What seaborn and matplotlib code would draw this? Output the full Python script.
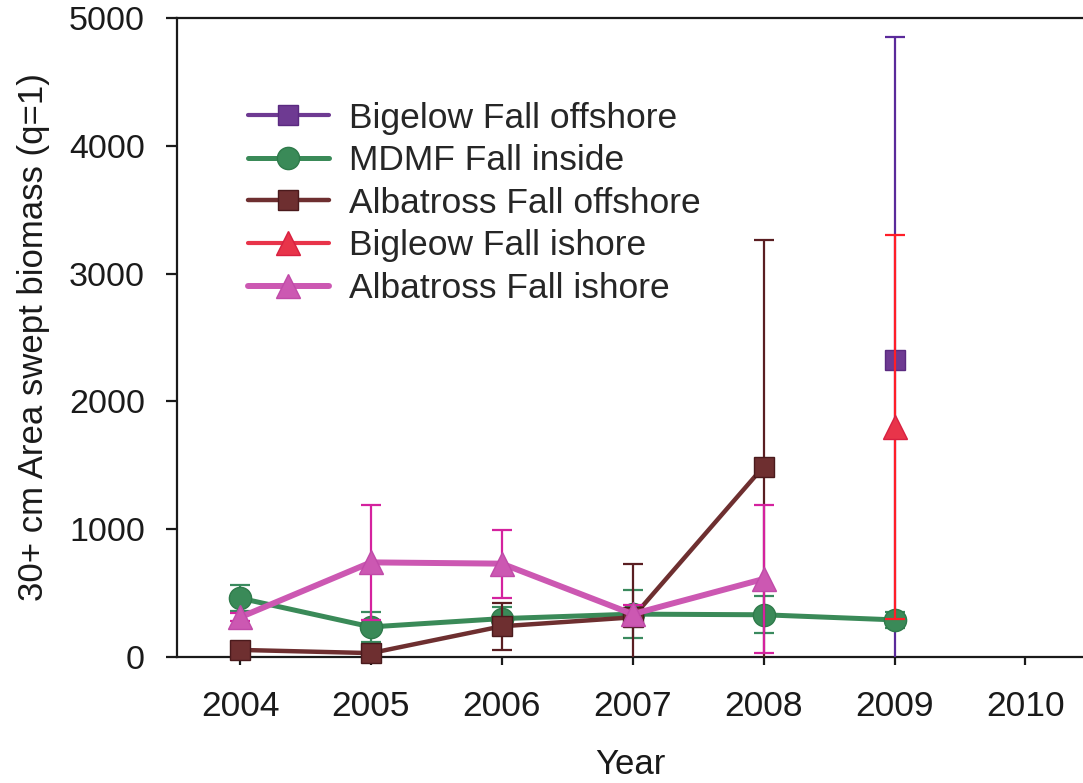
import matplotlib
matplotlib.use("Agg")
import matplotlib.pyplot as plt
import seaborn as sns
import numpy as np

# Survey years and swept-area biomass estimates (30+ cm) with error half-widths
year_ticks = [2004, 2005, 2006, 2007, 2008, 2009, 2010]

bigelow_off_years = [2009]
bigelow_off = [2320]
bigelow_off_err = [2530]

mdmf_years = [2004, 2005, 2006, 2007, 2008, 2009]
mdmf_inside = [460, 235, 300, 335, 330, 290]
mdmf_inside_err = [100, 115, 90, 190, 145, 60]

alb_off_years = [2004, 2005, 2006, 2007, 2008]
alb_off = [55, 30, 240, 310, 1490]
alb_off_err = [30, 20, 185, 415, 1775]

bigelow_in_years = [2009]
bigelow_in = [1800]
bigelow_in_err = [1500]

alb_in_years = [2004, 2005, 2006, 2007, 2008]
alb_in = [310, 740, 730, 335, 610]
alb_in_err = [30, 450, 265, 75, 580]

sns.set_theme(style="ticks")
plt.rcParams["font.family"] = ["Liberation Sans", "DejaVu Sans"]

fig = plt.figure(figsize=(10.83, 7.83), dpi=100)
ax = fig.add_axes([0.1634, 0.161, 0.8366, 0.816])

series = [
    dict(x=bigelow_off_years, y=bigelow_off, e=bigelow_off_err, label="Bigelow Fall offshore",
         color="#6E3A92", ecol="#5A2A9A", marker="s", ms=14, lw=3.0, mec="#5A2A80"),
    dict(x=mdmf_years, y=mdmf_inside, e=mdmf_inside_err, label="MDMF Fall inside",
         color="#3A8A58", ecol="#3A8A5E", marker="o", ms=16, lw=3.6, mec="#2E7A4A"),
    dict(x=alb_off_years, y=alb_off, e=alb_off_err, label="Albatross Fall offshore",
         color="#6E2F30", ecol="#5A1E22", marker="s", ms=14, lw=3.2, mec="#4A1A1C"),
    dict(x=bigelow_in_years, y=bigelow_in, e=bigelow_in_err, label="Bigleow Fall ishore",
         color="#E8344A", ecol="#FF1E28", marker="^", ms=17, lw=3.0, mec="#D82040"),
    dict(x=alb_in_years, y=alb_in, e=alb_in_err, label="Albatross Fall ishore",
         color="#CC58B2", ecol="#D4229E", marker="^", ms=17, lw=4.3, mec="#C04AA8"),
]

for i, s in enumerate(series):
    z = 3 + i
    ax.errorbar(s["x"], s["y"], yerr=s["e"], fmt="none", ecolor=s["ecol"],
                elinewidth=1.6, capsize=7, capthick=1.6, zorder=z)
    sns.lineplot(x=s["x"], y=s["y"], ax=ax, color=s["color"], marker=s["marker"],
                 markersize=s["ms"], markeredgecolor=s["mec"], markeredgewidth=1.0,
                 linewidth=s["lw"], label=s["label"], zorder=z + 0.5, clip_on=False)

ax.set_xlim(2003.518, 2010.44)
ax.set_ylim(0, 5000)
ax.set_xticks(year_ticks)
ax.set_xticklabels([str(y) for y in year_ticks])
ax.set_yticks([0, 1000, 2000, 3000, 4000, 5000])

for side in ["left", "bottom", "top"]:
    ax.spines[side].set_visible(True)
    ax.spines[side].set_color("#1a1a1a")
    ax.spines[side].set_linewidth(1.6)
ax.spines["right"].set_visible(False)

ax.tick_params(axis="y", direction="out", length=8, width=1.6, pad=15,
               labelsize=24.5, colors="#1a1a1a", labelcolor="#1a1a1a")
ax.tick_params(axis="x", direction="out", length=6, width=1.6, pad=18,
               labelsize=25.5, colors="#1a1a1a", labelcolor="#1a1a1a")

ax.set_xlabel("Year", fontsize=25, labelpad=18, color="#1a1a1a")
ax.set_ylabel("30+ cm Area swept biomass (q=1)", fontsize=25, labelpad=14, color="#1a1a1a")

leg = ax.legend(loc="upper left", bbox_to_anchor=(0.078, 0.869), frameon=False,
                fontsize=25.5, handlelength=2.3, handletextpad=0.55,
                labelspacing=0.27, borderpad=0, borderaxespad=0, numpoints=1)

fig.savefig("out.png", dpi=100, facecolor="white")
